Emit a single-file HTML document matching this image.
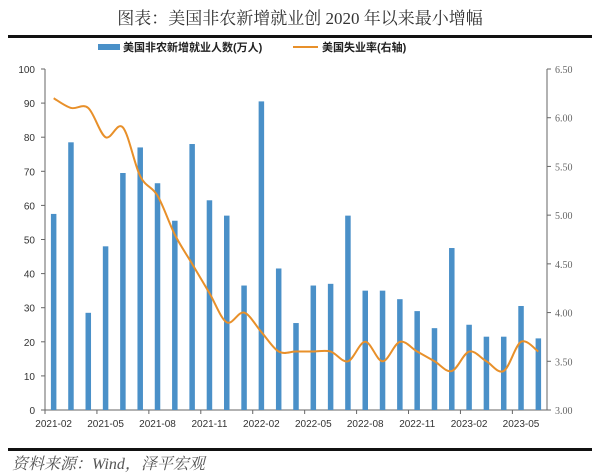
<!DOCTYPE html>
<html><head><meta charset="utf-8"><style>
body{margin:0;background:#fff;width:600px;height:475px;overflow:hidden}
svg{display:block}
text{font-family:"Liberation Sans","Noto Sans CJK SC",sans-serif}
</style></head><body>
<svg id="c" width="600" height="475">
<text x="300" y="24" text-anchor="middle" font-size="17" fill="#333" style="font-family:'Liberation Serif','Noto Serif CJK SC',serif">图表：美国非农新增就业创 2020 年以来最小增幅</text>
<rect x="8" y="35" width="584" height="3" fill="#111"/>
<g>
<g><rect x="98" y="44" width="22" height="6" fill="#4a90c8"/><text x="123" y="51" font-size="11" font-weight="bold" fill="#222">美国非农新增就业人数(万人)</text></g>
<g><line x1="293" y1="47" x2="318" y2="47" stroke="#e8902a" stroke-width="2"/><text x="322" y="51" font-size="11" font-weight="bold" fill="#222">美国失业率(右轴)</text></g>
</g>
<g id="plot"></g>
<rect x="8" y="448" width="584" height="3" fill="#111"/>
<text x="12" y="469" font-size="16" font-style="italic" fill="#555" style="font-family:'Liberation Serif','Noto Serif CJK SC',serif">资料来源：Wind，泽平宏观</text>
</svg>
<script>
const categories=["2021-02","2021-03","2021-04","2021-05","2021-06","2021-07","2021-08","2021-09","2021-10","2021-11","2021-12","2022-01","2022-02","2022-03","2022-04","2022-05","2022-06","2022-07","2022-08","2022-09","2022-10","2022-11","2022-12","2023-01","2023-02","2023-03","2023-04","2023-05","2023-06"];
const jobs=[57.5,78.5,28.5,48,69.5,77,66.5,55.5,78,61.5,57,36.5,90.5,41.5,25.5,36.5,37,57,35,35,32.5,29,24,47.5,25,21.5,21.5,30.5,21];
const unemployment=[6.2,6.1,6.1,5.8,5.9,5.4,5.2,4.8,4.5,4.2,3.9,4.0,3.8,3.6,3.6,3.6,3.6,3.5,3.7,3.5,3.7,3.6,3.5,3.4,3.6,3.5,3.4,3.7,3.6];
const leftTicks=[0,10,20,30,40,50,60,70,80,90,100];
const rightTicks=["3.00","3.50","4.00","4.50","5.00","5.50","6.00","6.50"];
const NS="http://www.w3.org/2000/svg";
const g=document.getElementById('plot');
const X0=45,X1=547,Y0=410,Y1=69;
const bw=(X1-X0)/categories.length;
const xc=i=>X0+bw*(i+0.5);
const yL=v=>Y0-(v/100)*(Y0-Y1);
const yR=v=>Y0-((v-3)/3.5)*(Y0-Y1);
function mk(t,a){const e=document.createElementNS(NS,t);for(const k in a)e.setAttribute(k,a[k]);g.appendChild(e);return e;}
// axes
let e=mk('line',{x1:X0,y1:Y1,x2:X0,y2:Y0,stroke:'#666'});

e=mk('line',{x1:X1,y1:Y1,x2:X1,y2:Y0,stroke:'#666'});

e=mk('line',{x1:X0,y1:Y0,x2:X1,y2:Y0,stroke:'#666'});

leftTicks.forEach(v=>{const y=yL(v);mk('line',{x1:X0-4,y1:y,x2:X0,y2:y,stroke:'#666'});
const t=mk('text',{x:X0-10,y:y+4,'text-anchor':'end','font-size':10,fill:'#333'});t.textContent=v;
});
rightTicks.forEach(s=>{const y=yR(parseFloat(s));mk('line',{x1:X1,y1:y,x2:X1+4,y2:y,stroke:'#666'});
const t=mk('text',{x:X1+8,y:y+4,'font-size':10,fill:'#666',style:"font-family:'Liberation Serif',serif"});t.textContent=s;
});
// bars
jobs.forEach((v,i)=>{const w=5.5;const r=mk('rect',{x:xc(i)-w/2,y:yL(v),width:w,height:Y0-yL(v),fill:'#4a90c8'});
});
// x ticks & labels
categories.forEach((c,i)=>{if(i%3===0){mk('line',{x1:X0+bw*i,y1:Y0,x2:X0+bw*i,y2:Y0+4,stroke:'#666'});
const t=mk('text',{x:xc(i),y:Y0+17,'text-anchor':'middle','font-size':10,fill:'#333'});t.textContent=c;
}});
// smooth line
const pts=unemployment.map((v,i)=>[xc(i),yR(v)]);
let d='M'+pts[0][0]+','+pts[0][1];
for(let i=0;i<pts.length-1;i++){const p0=pts[Math.max(i-1,0)],p1=pts[i],p2=pts[i+1],p3=pts[Math.min(i+2,pts.length-1)];
const c1=[p1[0]+(p2[0]-p0[0])/6,p1[1]+(p2[1]-p0[1])/6],c2=[p2[0]-(p3[0]-p1[0])/6,p2[1]-(p3[1]-p1[1])/6];
d+=` C${c1[0]},${c1[1]} ${c2[0]},${c2[1]} ${p2[0]},${p2[1]}`;}
const ln=mk('path',{d:d,fill:'none',stroke:'#e8902a','stroke-width':2});


</script>
</body></html>
